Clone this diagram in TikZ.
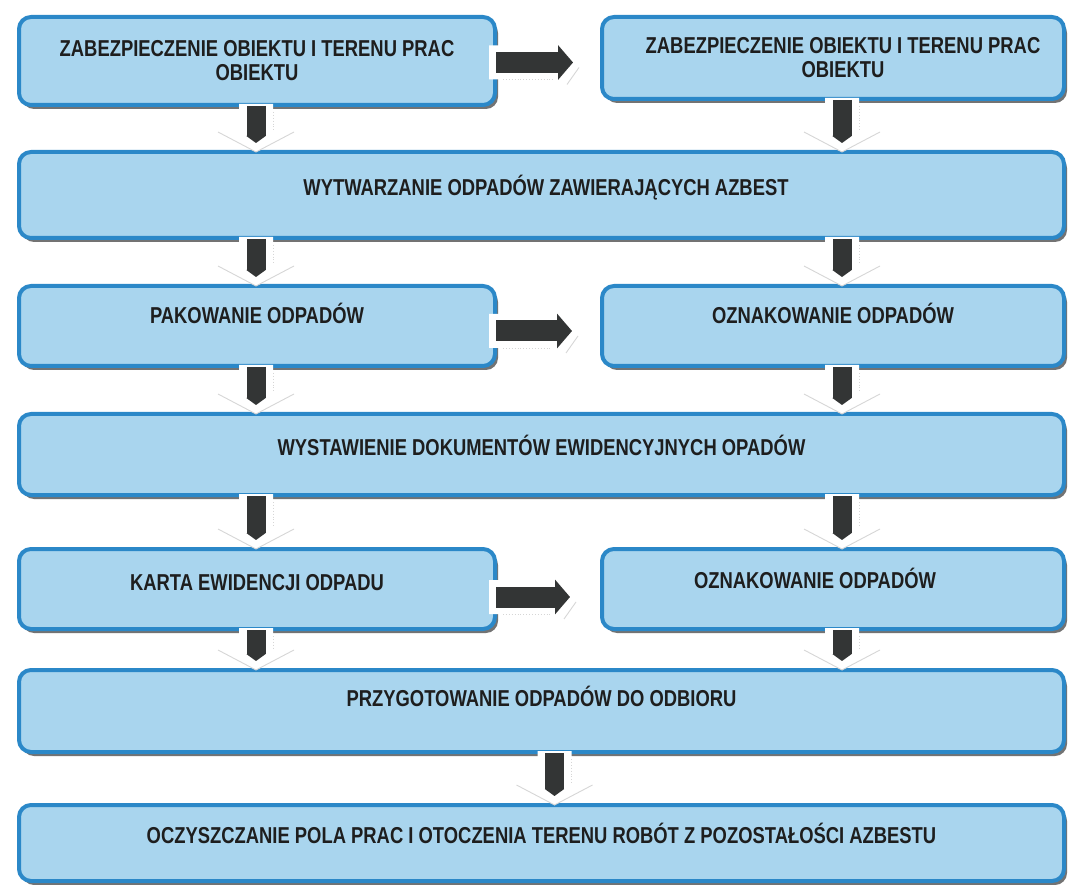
\documentclass[tikz,border=0pt]{standalone}
\usepackage{fontspec}
\setmainfont{Liberation Sans}[FakeStretch=0.8]
\usetikzlibrary{arrows.meta,shadows,calc}
\definecolor{boxfill}{HTML}{A9D5EE}
\definecolor{boxline}{HTML}{2B88C8}
\definecolor{arrdark}{HTML}{333535}
\definecolor{txt}{HTML}{1E1E1E}
\tikzset{
 box/.style={draw=boxline, line width=4pt, fill=boxfill, rounded corners=12pt, anchor=north west, inner sep=0pt, align=center, font=\bfseries\fontsize{23}{24}\selectfont, text=txt,
   drop shadow={shadow xshift=3pt, shadow yshift=-4pt, fill=black!55, opacity=1}},
 raise/.style={text height=16.5pt, text depth=#1},
 arrwhite/.style={fill=white},
 headline/.style={draw=black!16, line width=0.9pt},
 darrfg/.style={line width=19pt, arrdark, -{Triangle[length=7pt,width=19pt]}},
 rarrfg/.style={line width=21pt, arrdark, -{Triangle[length=15pt,width=34pt]}},
}
\begin{document}
\begin{tikzpicture}[x=1pt,y=1pt]
\useasboundingbox (0,0) rectangle (1069,-885);
\node[box, minimum width=476pt, minimum height=88pt] (b1) at (17,-15) {ZABEZPIECZENIE OBIEKTU I TERENU PRAC\\OBIEKTU};
\node[box, minimum width=462pt, minimum height=82pt] (b2) at (600,-15) {\hbox{\kern20pt ZABEZPIECZENIE OBIEKTU I TERENU PRAC}\\\hbox{\kern20pt OBIEKTU}};
\node[box, minimum width=1045pt, minimum height=86pt, raise=16pt] (b3) at (17,-150) {\hbox{\kern9pt WYTWARZANIE ODPADÓW ZAWIERAJĄCYCH AZBEST}};
\node[box, minimum width=476pt, minimum height=80pt, raise=22pt] (b4) at (17,-284) {PAKOWANIE ODPADÓW};
\node[box, minimum width=462pt, minimum height=80pt, raise=22pt] (b5) at (600,-284) {OZNAKOWANIE ODPADÓW};
\node[box, minimum width=1045pt, minimum height=81pt, raise=14pt] (b6) at (17,-412) {WYSTAWIENIE DOKUMENTÓW EWIDENCYJNYCH OPADÓW};
\node[box, minimum width=476pt, minimum height=80pt, raise=14pt] (b7) at (17,-547) {KARTA EWIDENCJI ODPADU};
\node[box, minimum width=462pt, minimum height=80pt, raise=18pt] (b8) at (600,-547) {\hbox{OZNAKOWANIE ODPADÓW\kern36pt}};
\node[box, minimum width=1045pt, minimum height=82pt, raise=26pt] (b9) at (17,-668) {PRZYGOTOWANIE ODPADÓW DO ODBIORU};
\node[box, minimum width=1045pt, minimum height=76pt, raise=16pt] (b10) at (17,-803) {OCZYSZCZANIE POLA PRAC I OTOCZENIA TERENU ROBÓT Z POZOSTAŁOŚCI AZBESTU};
% down arrows
\foreach \s/\t/\r/\dx in {b1/b3/b4/-1, b2/b3/b5/9, b3/b4/b4/-1, b3/b5/b5/9, b4/b6/b4/-1, b5/b6/b5/9, b6/b7/b4/-1, b6/b8/b5/9, b7/b9/b4/-1, b8/b9/b5/9, b9/b10/b9/13}{
  \path ([yshift=3pt,xshift=\dx pt]\s.south -| \r.south) coordinate (A)
        ([yshift=-2pt,xshift=\dx pt]\t.north -| \r.south) coordinate (T);
  \fill[arrwhite] ($(A)+(-17,0)$) -- ($(T)+(-17,20)$) -- ($(T)+(-38,20)$) -- (T) -- ($(T)+(38,20)$) -- ($(T)+(17,20)$) -- ($(A)+(17,0)$) -- cycle;
  \draw[headline] ($(T)+(-38,20)$) -- (T) -- ($(T)+(38,20)$);
  \draw[headline, dotted] ($(A)+(17,-8)$) -- ($(T)+(17,22)$);
  \draw[darrfg] ([yshift=1pt,xshift=\dx pt]\s.south -| \r.south) -- ([yshift=7pt,xshift=\dx pt]\t.north -| \r.south);
}
% right arrows
\foreach \s/\t/\dy/\tip in {b1/b2/-1.5/27, b4/b5/-5/28, b7/b8/-8/30}{
  \path ([xshift=-8pt,yshift=\dy pt]\s.east) coordinate (A)
        ([xshift=-\tip pt+8pt,yshift=\dy pt]\s.east -| \t.west) coordinate (T);
  \fill[arrwhite] ($(A)+(0,17)$) -- ($(T)+(-22,17)$) -- ($(T)+(-22,27)$) -- (T) -- ($(T)+(-22,-27)$) -- ($(T)+(-22,-17)$) -- ($(A)+(0,-17)$) -- cycle;
  \draw[headline] ($(T)+(-14,-22)$) -- ($(T)+(-2,-5)$);
  \draw[headline, dotted] ($(A)+(14,-17)$) -- ($(T)+(-28,-17)$);
  \draw[rarrfg] ([xshift=-1pt,yshift=\dy pt]\s.east) -- ([xshift=-\tip pt,yshift=\dy pt]\s.east -| \t.west);
}
\end{tikzpicture}
\end{document}
